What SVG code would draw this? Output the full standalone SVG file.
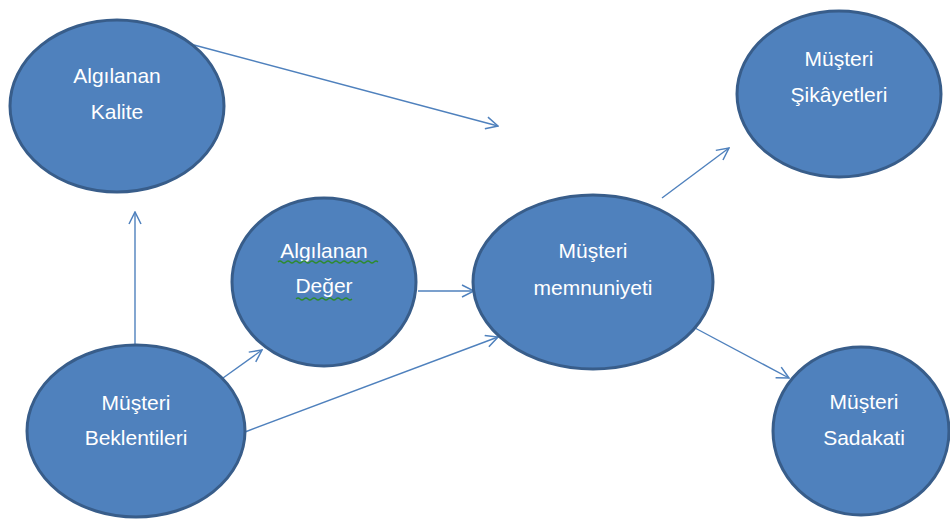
<svg xmlns="http://www.w3.org/2000/svg" width="950" height="525" viewBox="0 0 950 525">
<defs>
<marker id="arr" viewBox="0 0 14 14" refX="13" refY="7" markerWidth="14" markerHeight="14" markerUnits="userSpaceOnUse" orient="auto">
<path d="M1,1 L13,7 L1,13" fill="none" stroke="#4F81BD" stroke-width="1.5"/>
</marker>
</defs>
<style>
.node ellipse{fill:#4F81BD;stroke:#385D8A;stroke-width:3}
.node text{fill:#FFFFFF;font-family:"Liberation Sans","Open Sans",sans-serif;font-size:21px;text-anchor:middle}
.conn line{stroke:#4F81BD;stroke-width:1.4;fill:none;marker-end:url(#arr)}
.squig{fill:none;stroke:#2E8B2E;stroke-width:1.2}
</style>
<rect width="950" height="525" fill="#FFFFFF"/>
<g id="connectors" class="conn">
<line x1="194" y1="45" x2="498" y2="126"/>
<line x1="135" y1="347" x2="135" y2="212"/>
<line x1="223" y1="378" x2="262" y2="350"/>
<line x1="245" y1="432" x2="498" y2="337"/>
<line x1="418" y1="291" x2="474" y2="291"/>
<line x1="662" y1="198" x2="729" y2="148"/>
<line x1="695" y1="328" x2="789" y2="378"/>
</g>
<g id="algilanan-kalite" class="node">
<ellipse cx="117" cy="106" rx="107" ry="86"/>
<text x="117" y="83">Algılanan</text>
<text x="117" y="119">Kalite</text>
</g>
<g id="algilanan-deger" class="node">
<ellipse cx="324" cy="282" rx="92" ry="84"/>
<text x="324" y="258">Algılanan</text>
<text x="324" y="293">Değer</text>
<path class="squig" d="M278,262 q2,-2 4,0 t4,0 t4,0 t4,0 t4,0 t4,0 t4,0 t4,0 t4,0 t4,0 t4,0 t4,0 t4,0 t4,0 t4,0 t4,0 t4,0 t4,0 t4,0 t4,0 t4,0 t4,0 t4,0 t4,0 t4,0"/>
<path class="squig" d="M296,299 q2,-2 4,0 t4,0 t4,0 t4,0 t4,0 t4,0 t4,0 t4,0 t4,0 t4,0 t4,0 t4,0 t4,0 t4,0"/>
</g>
<g id="musteri-memnuniyeti" class="node">
<ellipse cx="593" cy="282" rx="120" ry="87"/>
<text x="593" y="258">Müşteri</text>
<text x="593" y="295">memnuniyeti</text>
</g>
<g id="musteri-sikayetleri" class="node">
<ellipse cx="839" cy="94" rx="102" ry="83"/>
<text x="839" y="66">Müşteri</text>
<text x="839" y="102">Şikâyetleri</text>
</g>
<g id="musteri-beklentileri" class="node">
<ellipse cx="136" cy="431" rx="109" ry="86"/>
<text x="136" y="410">Müşteri</text>
<text x="136" y="445">Beklentileri</text>
</g>
<g id="musteri-sadakati" class="node">
<ellipse cx="861" cy="431" rx="88" ry="84"/>
<text x="864" y="409">Müşteri</text>
<text x="864" y="445">Sadakati</text>
</g>
</svg>
